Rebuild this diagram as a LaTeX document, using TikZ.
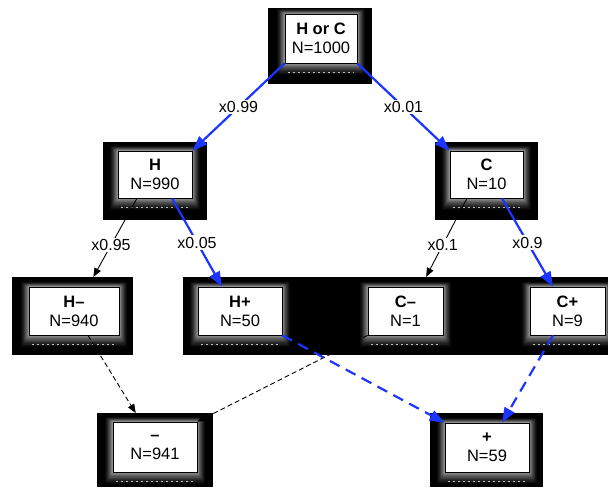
\documentclass[tikz,border=0pt]{standalone}
\usepackage{fontspec}
\setmainfont{Liberation Sans}
\usetikzlibrary{arrows.meta,backgrounds}
\definecolor{edgeblue}{RGB}{28,52,255}
\begin{document}
\begin{tikzpicture}[x=1pt,y=-1pt,
  box/.style={draw=black,line width=0.7pt,fill=white,align=center,inner sep=0pt,
    font=\fontsize{16.5}{19}\selectfont},
  prob/.style={fill=white,text=black,inner sep=1.5pt,font=\fontsize{16}{19}\selectfont},
  bluearrow/.style={edgeblue,line width=2.2pt,-{Triangle[length=15pt,width=11pt]}},
  blackarrow/.style={black,line width=0.9pt,-{Triangle[length=9pt,width=7pt]}},
  bluedash/.style={bluearrow,dash pattern=on 11pt off 7pt},
  blackdash/.style={blackarrow,dash pattern=on 5pt off 3pt}]
\useasboundingbox (0,0) rectangle (608,489);

% population boxes
\node[box,minimum width=72pt,minimum height=49pt] (hc) at (321,38.5) {\textbf{H or C}\\N=1000};
\node[box,minimum width=74pt,minimum height=47pt] (h)  at (155,174.5) {\textbf{H}\\N=990};
\node[box,minimum width=73pt,minimum height=47pt] (c)  at (486.5,174.5) {\textbf{C}\\N=10};
\node[box,minimum width=90pt,minimum height=48pt] (hm) at (74,311) {\textbf{H–}\\N=940};
\node[box,minimum width=84pt,minimum height=48pt] (hp) at (240,311) {\textbf{H+}\\N=50};
\node[box,minimum width=75pt,minimum height=48pt] (cm) at (405.5,311) {\textbf{C–}\\N=1};
\node[box,minimum width=75pt,minimum height=48pt] (cp) at (567.5,311) {\textbf{C+}\\N=9};
\node[box,minimum width=84pt,minimum height=50pt] (mi) at (155,447) {\textbf{–}\\N=941};
\node[box,minimum width=84pt,minimum height=49pt] (pl) at (487,447.5) {\textbf{+}\\N=59};

% black frames with a soft grey glow round each box
\begin{scope}[on background layer]
  \fill[black] (268,8) rectangle (372,84);
  \fill[black] (103,142) rectangle (207,220);
  \fill[black] (435,142) rectangle (538,220);
  \fill[black] (12,277) rectangle (133,355);
  \fill[black] (183,277) rectangle (608,355);
  \fill[black] (97,413) rectangle (213,487);
  \fill[black] (430,413) rectangle (543,487);
  \foreach \n in {hc,h,c,hm,hp,cm,cp,mi,pl}{
    \foreach \i in {10,9,...,1}{
      \pgfmathsetmacro\lt{55*((10-\i)/9)^1.5}
      \fill[white!\lt!black,rounded corners=2pt]
        ([shift={(-\i*0.9,-\i*0.55)}]\n.north west) rectangle ([shift={(\i*0.9,\i*1.35)}]\n.south east);
    }
    \draw[white!75!black,line width=0.8pt,dash pattern=on 2pt off 3pt]
      ([shift={(3,9)}]\n.south west) -- ([shift={(-3,9)}]\n.south east);
  }
\end{scope}

% branching with probabilities
\draw[bluearrow] (hc.south west) -- node[prob]{x0.99} (h.north east);
\draw[bluearrow] (hc.south east) -- node[prob]{x0.01} (c.north west);
\draw[blackarrow,shorten >=11pt] ([xshift=-18pt]h.south) -- node[prob,pos=0.53]{x0.95} ([xshift=14pt]hm.north);
\draw[bluearrow] ([xshift=17pt]h.south) -- node[prob]{x0.05} ([xshift=-18pt]hp.north);
\draw[blackarrow,shorten >=11pt] ([xshift=-19.5pt]c.south) -- node[prob,pos=0.53]{x0.1} ([xshift=15.5pt]cm.north);
\draw[bluearrow] ([xshift=15.5pt]c.south) -- node[prob]{x0.9} ([xshift=-14.5pt]cp.north);

% pooling by test result
\draw[blackdash,shorten >=10pt] ([xshift=14pt]hm.south) -- ([xshift=-14pt]mi.north);
\draw[blackdash] (cm.south west) -- (mi.north east);
\draw[bluedash] (hp.south east) -- (pl.north west);
\draw[bluedash] ([xshift=-14.5pt]cp.south) -- ([xshift=15pt]pl.north);
\end{tikzpicture}
\end{document}
